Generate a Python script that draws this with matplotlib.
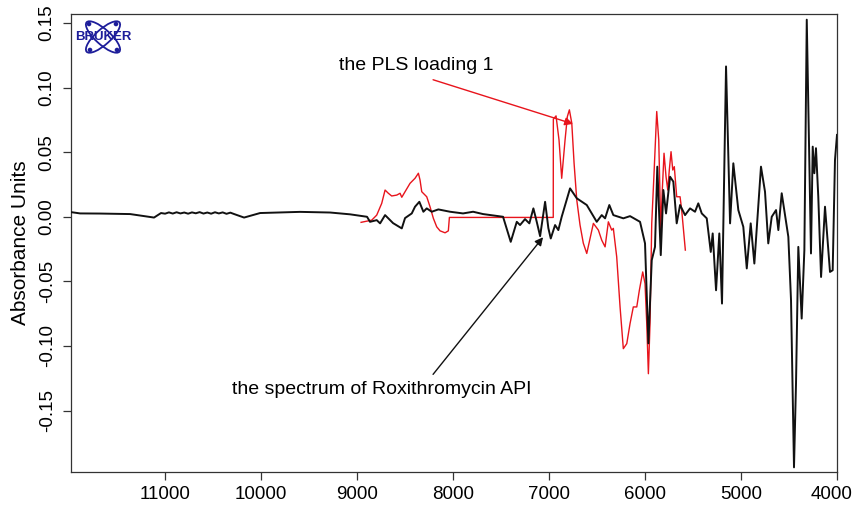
import numpy as np
import matplotlib
matplotlib.use("Agg")
import matplotlib.pyplot as plt
import matplotlib.transforms as mtransforms
from matplotlib.patches import Ellipse, Circle

plt.rcParams['font.family'] = ['Liberation Sans', 'DejaVu Sans']

# --- spectrum of Roxithromycin API (wavenumber cm-1, absorbance) ---
spec_wn = [11979, 11885, 11677, 11364, 11115, 11042, 11000, 10960, 10920, 10880,
           10840, 10800, 10760, 10720, 10680, 10640, 10600, 10560, 10520, 10480,
           10440, 10400, 10360, 10320, 10280, 10177, 10010, 9594, 9281,
           9073, 8896, 8865, 8795, 8760, 8708, 8625, 8534, 8500, 8430,
           8396, 8351, 8309, 8274, 8222, 8153, 8031, 7896, 7791, 7687,
           7479, 7399, 7336, 7302, 7250, 7205, 7163, 7128, 7093, 7041,
           7007, 6982, 6937, 6903, 6868, 6781, 6711, 6607, 6503, 6451,
           6416, 6372, 6330, 6226, 6156, 6052, 6000, 5965, 5930, 5896,
           5872, 5836, 5809, 5781, 5739, 5705, 5670, 5635, 5583, 5531,
           5479, 5445, 5409, 5357, 5315, 5295, 5260, 5226, 5198, 5156,
           5114, 5080, 5028, 4976, 4940, 4899, 4861, 4792, 4750, 4716,
           4680, 4635, 4611, 4576, 4507, 4479, 4448, 4427, 4403, 4368,
           4340, 4315, 4271, 4253, 4236, 4219, 4195, 4166, 4125, 4073,
           4045, 4021, 4000]
spec_abs = [0.0036, 0.0026, 0.0025, 0.0021, -0.0006, 0.0029, 0.0024, 0.0034, 0.0025, 0.0035,
            0.0026, 0.0033, 0.0024, 0.0034, 0.0027, 0.0036, 0.0025, 0.0033, 0.0024, 0.0035,
            0.0026, 0.0034, 0.0023, 0.0032, 0.0021, -0.0006, 0.0029, 0.0038, 0.0033,
            0.0019, 0.0000, -0.0039, -0.0026, -0.0051, 0.0013, -0.0049, -0.0090, -0.0010, 0.0026,
            0.0078, 0.0116, 0.0039, 0.0065, 0.0039, 0.0057, 0.0039, 0.0026, 0.0039, 0.0021,
            0.0000, -0.0194, -0.0039, -0.0064, -0.0018, -0.0051, 0.0065, -0.0039, -0.0150, 0.0116,
            -0.0088, -0.0168, -0.0064, -0.0103, 0.0000, 0.0220, 0.0143, 0.0091, -0.0039, 0.0013,
            -0.0012, 0.0091, 0.0013, -0.0012, 0.0005, -0.0039, -0.0206, -0.0980, -0.0336, -0.0233,
            0.0388, -0.0297, 0.0207, 0.0026, 0.0310, 0.0272, -0.0051, 0.0091, 0.0013, 0.0065,
            0.0039, 0.0104, 0.0026, -0.0012, -0.0272, -0.0129, -0.0569, -0.0129, -0.0672, 0.1164,
            -0.0051, 0.0414, 0.0052, -0.0078, -0.0400, -0.0051, -0.0362, 0.0388, 0.0194, -0.0206,
            0.0000, 0.0052, -0.0103, 0.0182, -0.0155, -0.0646, -0.1940, -0.1290, -0.0233, -0.0788,
            -0.0258, 0.1526, -0.0284, 0.0543, 0.0337, 0.0531, 0.0155, -0.0466, 0.0078, -0.0427,
            -0.0414, 0.0440, 0.0634]

# --- PLS loading 1 ---
pls_wn = [8958, 8847, 8795, 8743, 8708, 8674, 8639, 8586, 8552, 8534,
          8500, 8448, 8396, 8361, 8344, 8326, 8274, 8240, 8205, 8170,
          8135, 8083, 8049, 8038, 6956, 6955, 6927, 6896, 6868, 6833,
          6809, 6788, 6763, 6739, 6711, 6677, 6643, 6607, 6538, 6486,
          6451, 6416, 6382, 6347, 6330, 6295, 6260, 6226, 6190, 6156,
          6122, 6086, 6059, 6024, 6000, 5982, 5965, 5948, 5930, 5906,
          5878, 5857, 5836, 5820, 5802, 5781, 5763, 5747, 5729, 5711,
          5695, 5670, 5635, 5618, 5580]
pls_val = [-0.0043, -0.0026, 0.0013, 0.0104, 0.0207, 0.0182, 0.0161, 0.0168, 0.0182, 0.0151,
           0.0194, 0.0259, 0.0298, 0.0337, 0.0285, 0.0194, 0.0155, 0.0078, -0.0012, -0.0078,
           -0.0109, -0.0124, -0.0109, -0.0005, -0.0005, 0.0756, 0.0781, 0.0595, 0.0298, 0.0595,
           0.0776, 0.0828, 0.0725, 0.0414, 0.0130, -0.0064, -0.0204, -0.0284, -0.0051, -0.0103,
           -0.0181, -0.0233, -0.0039, -0.0103, -0.0090, -0.0310, -0.0698, -0.1021, -0.0982, -0.0827,
           -0.0698, -0.0698, -0.0569, -0.0427, -0.0517, -0.0827, -0.1215, -0.0827, -0.0051, 0.0337,
           0.0815, 0.0595, -0.0103, 0.0207, 0.0492, 0.0310, 0.0207, 0.0362, 0.0504, 0.0362,
           0.0388, 0.0155, 0.0155, 0.0052, -0.0258]

x_ticks = [11000, 10000, 9000, 8000, 7000, 6000, 5000, 4000]
y_ticks = [-0.15, -0.10, -0.05, 0.00, 0.05, 0.10, 0.15]

fig = plt.figure(figsize=(8.56, 5.05), dpi=100)
ax = fig.add_axes([71 / 856, 33 / 505, 766 / 856, 458 / 505])

ax.plot(spec_wn, spec_abs, color='#111111', lw=1.4, zorder=3)
ax.plot(pls_wn, pls_val, color='#e8141c', lw=1.0, zorder=2)

ax.set_xlim(11980, 4000)
ax.set_ylim(-0.1976, 0.157)
ax.set_xticks(x_ticks)
ax.set_xticklabels([str(t) for t in x_ticks], fontsize=13.5)
ax.set_yticks(y_ticks)
ax.set_yticklabels(['%.2f' % t for t in y_ticks], fontsize=13.5,
                   rotation=90, va='center')
ax.tick_params(axis='both', direction='out', length=6, width=0.9, color='#333333')
ax.tick_params(axis='x', pad=4)
ax.tick_params(axis='y', pad=5)
for s in ax.spines.values():
    s.set_color('#333333')
    s.set_linewidth(0.9)
ax.set_ylabel('Absorbance Units', fontsize=15, labelpad=6)

# keep the last x label inside the figure, like the original
last = ax.get_xticklabels()[-1]
last.set_transform(last.get_transform() +
                   mtransforms.ScaledTranslation(-5 / 100, 0, fig.dpi_scale_trans))

# annotations
ax.annotate('', xy=(6750, 0.0719), xytext=(8208, 0.1061),
            arrowprops=dict(arrowstyle='-|>', color='#e8141c', lw=1.0,
                            mutation_scale=12, shrinkA=0, shrinkB=0))
ax.text(9187, 0.117, 'the PLS loading 1', fontsize=14, va='center', ha='left')
ax.annotate('', xy=(7062, -0.0158), xytext=(8208, -0.1220),
            arrowprops=dict(arrowstyle='-|>', color='#111111', lw=1.0,
                            mutation_scale=12, shrinkA=0, shrinkB=0))
ax.text(10302, -0.1337, 'the spectrum of Roxithromycin API', fontsize=14,
        va='center', ha='left')

# Bruker logo
lg = fig.add_axes([72 / 856, (505 - 58) / 505, 62 / 856, 42 / 505])
lg.set_xlim(0, 62)
lg.set_ylim(0, 42)
lg.set_aspect('equal')
lg.axis('off')
blue = '#1d1d9a'
for ang in (42, -42):
    lg.add_patch(Ellipse((31, 21), 44, 15, angle=ang, fill=False, ec=blue, lw=1.3))
for cx, cy in [(17, 34), (45, 8), (18, 8), (44, 34)]:
    lg.add_patch(Circle((cx, cy), 1.6, color=blue))
lg.text(31, 20.5, 'BRUKER', color=blue, fontsize=9.5, fontweight='bold',
        ha='center', va='center')

fig.savefig('out.png', dpi=100)
